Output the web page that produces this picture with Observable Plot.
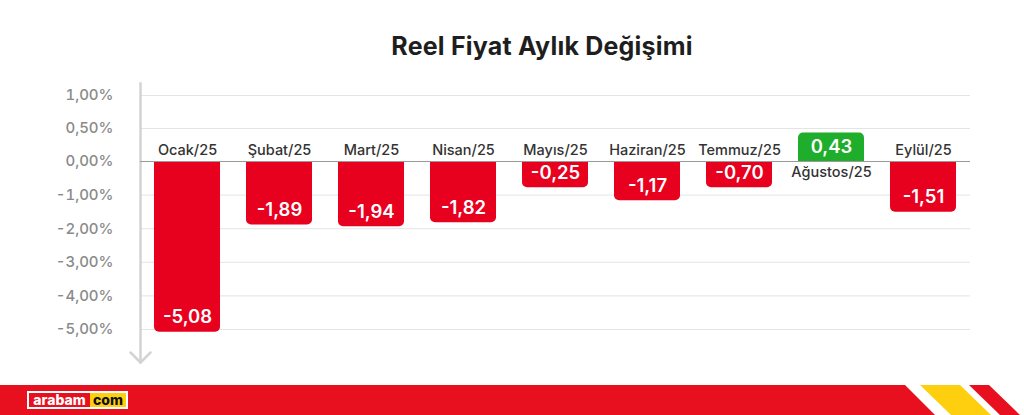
<!DOCTYPE html>
<html>
<head>
<meta charset="utf-8">
<script src="https://cdn.jsdelivr.net/npm/d3@7"></script>
<script src="https://cdn.jsdelivr.net/npm/@observablehq/plot@0.6"></script>
<style>
  html, body { margin: 0; padding: 0; background: #fff; }
  body { width: 1024px; height: 415px; position: relative; overflow: hidden; font-family: Inter, "Open Sans", sans-serif; }
  #title { position: absolute; top: 31px; left: 60px; width: 964px; text-align: center; font-size: 25px; font-weight: 700; color: #1e1e1e; line-height: 30px; letter-spacing: 0.2px; }
  #chart { position: absolute; top: 75px; left: 0; }
  #footer { position: absolute; top: 385px; left: 0; }
</style>
</head>
<body>
<div id="title">Reel Fiyat Aylık Değişimi</div>
<div id="chart"></div>
<svg id="footer" width="1024" height="30" viewBox="0 0 1024 30">
  <polygon points="0,0 905,0 935,30 0,30" fill="#e8101e"/>
  <polygon points="920,0 960,0 991,30 951,30" fill="#fdcf0f"/>
  <polygon points="969,0 989,0 1020,30 1000,30" fill="#e8101e"/>
  <rect x="27" y="6" width="101" height="18" fill="#fff"/>
  <rect x="29" y="8" width="61" height="14" fill="#e8101e"/>
  <rect x="90" y="8" width="36" height="14" fill="#fdcf0f"/>
  <text x="59.5" y="19.5" text-anchor="middle" font-family="Inter, sans-serif" font-weight="800" font-size="14" fill="#fff">arabam</text>
  <text x="108" y="19.5" text-anchor="middle" font-family="Inter, sans-serif" font-weight="800" font-size="14" fill="#111">com</text>
</svg>
<script>
const months = ["Ocak/25", "Şubat/25", "Mart/25", "Nisan/25", "Mayıs/25", "Haziran/25", "Temmuz/25", "Ağustos/25", "Eylül/25"];
const changes = [-5.08, -1.89, -1.94, -1.82, -0.25, -1.17, -0.70, 0.43, -1.51];
const yTicks = [1, 0.5, 0, -1, -2, -3, -4, -5];

const red = "#e8001f";
const green = "#1fae2b";
const minBox = 0.78; // minimum visual length (in value units) so a label fits

const data = months.map((m, i) => ({month: m, value: changes[i]}));
const barEnd = d => d.value < 0 ? Math.min(d.value, -minBox) : d.value;
const fmt = v => v.toFixed(2).replace(".", ",");
const tickFmt = v => (v === 0 ? "0,00" : v.toFixed(2).replace(".", ",")) + "%";

const chevron = {
  draw(context) {
    context.moveTo(-10, -10);
    context.lineTo(0, 0);
    context.lineTo(10, -10);
  }
};

const chart = Plot.plot({
  width: 1024,
  height: 311,
  marginLeft: 140,
  marginRight: 54,
  marginTop: 8,
  marginBottom: 24,
  style: {fontFamily: "Inter, 'Open Sans', sans-serif", background: "transparent"},
  x: {domain: months, paddingInner: 0.28, paddingOuter: 0.14, axis: null},
  y: {type: "linear", domain: [-5, 0, 0.5, 1], range: [254, 86, 53, 20], axis: null},
  marks: [
    Plot.ruleY(yTicks.filter(t => t !== 0), {stroke: "#e4e4e4", strokeWidth: 1}),
    Plot.axisY({ticks: yTicks, tickFormat: tickFmt, tickSize: 0, tickPadding: 27, fontSize: 15, fontWeight: 500, color: "#8a8a8a", label: null}),
    Plot.frame({anchor: "left", stroke: "#d3d3d3", strokeWidth: 2.5}),
    Plot.dot([0], {x: null, y: null, frameAnchor: "bottom-left", symbol: chevron, fill: "none", stroke: "#d3d3d3", strokeWidth: 2.5, strokeLinecap: "round", strokeLinejoin: "round"}),
    Plot.barY(data, {x: "month", y1: 0, y2: barEnd, fill: d => d.value < 0 ? red : green, rx: 5}),
    Plot.barY(data, {x: "month", y1: 0, y2: d => barEnd(d) / 2, fill: d => d.value < 0 ? red : green}),
    Plot.ruleY([0], {stroke: "#9a9a9a", strokeWidth: 1}),
    Plot.text(data, {x: "month", y: 0, text: "month", fontSize: 14.5, fontWeight: 500, fill: "#333",
      filter: d => d.value < 0, lineAnchor: "bottom", dy: -7}),
    Plot.text(data, {x: "month", y: 0, text: "month", fontSize: 14.5, fontWeight: 500, fill: "#333",
      filter: d => d.value >= 0, lineAnchor: "top", dy: 5}),
    Plot.text(data, {x: "month", y: barEnd, text: d => fmt(d.value), fontSize: 18.5, fontWeight: 600, fill: "#fff",
      filter: d => d.value < 0, dy: -15}),
    Plot.text(data, {x: "month", y: barEnd, text: d => fmt(d.value), fontSize: 18.5, fontWeight: 600, fill: "#fff",
      filter: d => d.value >= 0, dy: 14})
  ]
});
document.getElementById("chart").appendChild(chart);
</script>
</body>
</html>
